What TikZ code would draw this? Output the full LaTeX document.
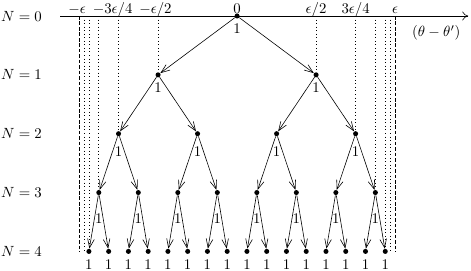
\documentclass[tikz,border=0pt]{standalone}
\usepackage{amsmath,amssymb}
\usetikzlibrary{arrows.meta}

\begin{document}
\begin{tikzpicture}[x=0.47cm, y=1.4cm,
  dot/.style={circle, fill, minimum size=1.2mm, inner sep=0pt},
  arr/.style={-{Straight Barb[length=6pt,width=4.5pt]}},
  guide/.style={dotted},
  bound/.style={dash pattern=on 2.5pt off 1.2pt}]
\useasboundingbox (-12.0,0.272) rectangle (11.84,-4.323);

%% axis with the epsilon marks
\draw[-{To[length=4pt,width=6pt]}] (-8.96,0) -- (11.7,0);
\node at (10.08,-0.29) {$(\theta-\theta')$};
\foreach \x/\t in {-8.1/{-\epsilon}, -6.3/{-3\epsilon/4}, -4.13/{-\epsilon/2}, 0/0,
                   4/{\epsilon/2}, 6/{3\epsilon/4}, 8/{\epsilon}}
  \node[anchor=base, inner sep=0pt] at (\x,0.045) {$\t$};
\foreach \x/\l in {4/1, 6/2, 7/3, 7.5/4, 7.75/4} {
  \draw[guide] (-\x,0) -- (-\x,-\l);
  \draw[guide] (\x,0) -- (\x,-\l);
}
\draw[bound] (-8,0) -- (-8,-4);
\draw[bound] (8,0) -- (8,-4);

%% levels of the tree
\foreach \l/\w/\d in {0/16/0.31, 1/8/0.31, 2/4/0.43, 3/2/0.62, 4/1/0.31} {
  \node at (-10.91,-\l) {$N=\l$};
  \pgfmathtruncatemacro{\m}{16/\w-1}
  \foreach \i in {0,...,\m} {
    \node[dot] (n\l-\i) at ({(\i+0.5)*\w-8},-\l) {};
    \node at ([yshift=-\d cm]n\l-\i) {$1$};
  }
}

%% parent -> child arrows
\foreach \l in {1,...,4} {
  \pgfmathtruncatemacro{\m}{2^\l-1}
  \pgfmathtruncatemacro{\up}{\l-1}
  \foreach \i in {0,...,\m} {
    \pgfmathtruncatemacro{\k}{floor(\i/2)}
    \draw[arr] (n\up-\k) -- (n\l-\i);
  }
}
\end{tikzpicture}
\end{document}
